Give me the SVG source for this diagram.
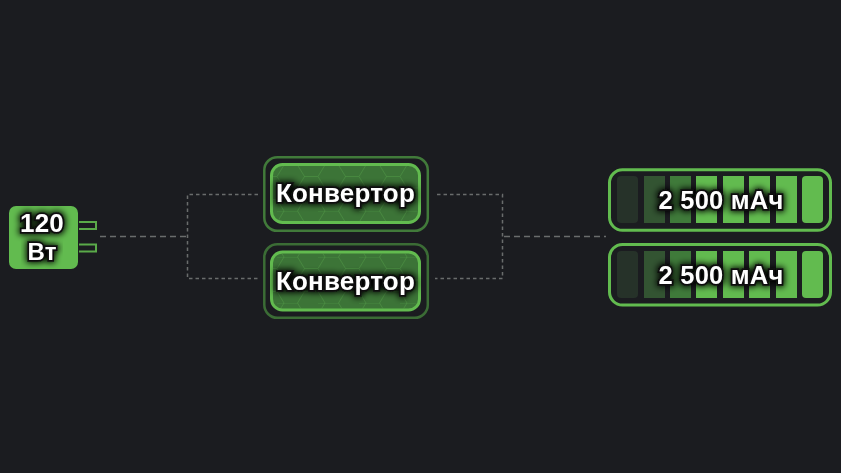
<svg xmlns="http://www.w3.org/2000/svg" width="841" height="473" viewBox="0 0 841 473">
<defs>
<filter id="shadow" x="-20%" y="-60%" width="140%" height="220%"><feMorphology in="SourceGraphic" operator="dilate" radius="0.300" result="g"/><feMorphology in="SourceAlpha" operator="dilate" radius="1" result="d"/><feGaussianBlur in="d" stdDeviation="3" result="b"/><feMerge><feMergeNode in="b"/><feMergeNode in="g"/></feMerge></filter>
<pattern id="hex" width="41" height="46" patternUnits="userSpaceOnUse" patternTransform="translate(277 165)">
<path d="M0 11.500L7 0H20.500L27.500 11.500L20.500 23H7ZM27.500 11.500H41M7 23L0 34.500M20.500 23L27.500 34.500L20.500 46M7 46L0 34.500M27.500 34.500H41M7 0H0M20.500 0L27.500 -11.500" fill="none" stroke="#5cab4c" stroke-width="1" opacity="0.35"/>
</pattern>
</defs>
<style>
.bg{fill:#1b1c20}
.wire{fill:none;stroke:#6a6c6c;stroke-width:1.500}
.dash{stroke-dasharray:6 4}
.dot{stroke-dasharray:3.500 3}
.outer{fill:none;stroke:#417a3a;stroke-width:2.500}
.inner{fill:#3c7437;stroke:#62bb4f;stroke-width:3}
.hex{fill:url(#hex);stroke:none}
.shell{fill:none;stroke:#62bb4f;stroke-width:3}
.prong{fill:none;stroke:#5aaa49;stroke-width:2}
.c1{fill:#263229}.c2{fill:#335432}.c3{fill:#3f7a3a}.c4{fill:#62bb4f}
text{font-family:"Liberation Sans",Arial,sans-serif;font-weight:700;fill:#fff;stroke:#0d0f0d;stroke-width:3.500;paint-order:stroke;text-anchor:middle;filter:url(#shadow)}
.t1{font-size:26px;letter-spacing:.2px}
.t2{font-size:25.500px;letter-spacing:.2px}
.t3{font-size:24px}
</style>
<rect class="bg" width="841" height="473"/>
<g id="connectors">
<path class="wire dash" d="M100 236.500H187"/>
<path class="wire dot" d="M258 194.500H187.500V278.500H258"/>
<path class="wire dot" d="M437 194.500H502.500V278.500H435"/>
<path class="wire dash" d="M504 236.500H606"/>
</g>
<g id="charger">
<rect x="9" y="206" width="69" height="63" rx="7" fill="#62bb4f"/>
<path class="prong" d="M79 222H96V229H79M79 244.500H96V251.500H79"/>
<text class="t1" x="42" y="232">120</text>
<text class="t3" x="42" y="260">Вт</text>
</g>
<g id="converter-1">
<rect class="outer" x="264.300" y="157.200" width="163.500" height="73.600" rx="13"/>
<rect class="inner" x="271.500" y="164.500" width="148" height="58" rx="11"/>
<rect class="hex" x="273" y="166" width="145" height="55" rx="10"/>
<text class="t1" x="345.500" y="201.500">Конвертор</text>
</g>
<g id="converter-2">
<rect class="outer" x="264.300" y="244.200" width="163.500" height="73.600" rx="13" opacity="0.85"/>
<rect class="inner" x="271.500" y="252" width="148" height="58" rx="11"/>
<rect class="hex" x="273" y="253.500" width="145" height="55" rx="10"/>
<text class="t1" x="345.500" y="289.500">Конвертор</text>
</g>
<g id="battery-1">
<rect class="shell" x="609.500" y="169.800" width="221" height="60.500" rx="13"/>
<rect class="c1" x="617" y="176" width="21" height="47" rx="4"/>
<rect class="c2" x="644" y="176" width="21" height="47"/>
<rect class="c3" x="670" y="176" width="21" height="47"/>
<rect class="c4" x="696" y="176" width="21" height="47"/>
<rect class="c4" x="723" y="176" width="21" height="47"/>
<rect class="c4" x="749" y="176" width="21" height="47"/>
<rect class="c4" x="776" y="176" width="21" height="47"/>
<rect class="c4" x="802" y="176" width="21" height="47" rx="4"/>
<text class="t2" x="721" y="209">2 500 мАч</text>
</g>
<g id="battery-2">
<rect class="shell" x="609.500" y="244.500" width="221" height="60.500" rx="13"/>
<rect class="c1" x="617" y="251" width="21" height="47" rx="4"/>
<rect class="c2" x="644" y="251" width="21" height="47"/>
<rect class="c3" x="670" y="251" width="21" height="47"/>
<rect class="c4" x="696" y="251" width="21" height="47"/>
<rect class="c4" x="723" y="251" width="21" height="47"/>
<rect class="c4" x="749" y="251" width="21" height="47"/>
<rect class="c4" x="776" y="251" width="21" height="47"/>
<rect class="c4" x="802" y="251" width="21" height="47" rx="4"/>
<text class="t2" x="721" y="284">2 500 мАч</text>
</g>
</svg>
